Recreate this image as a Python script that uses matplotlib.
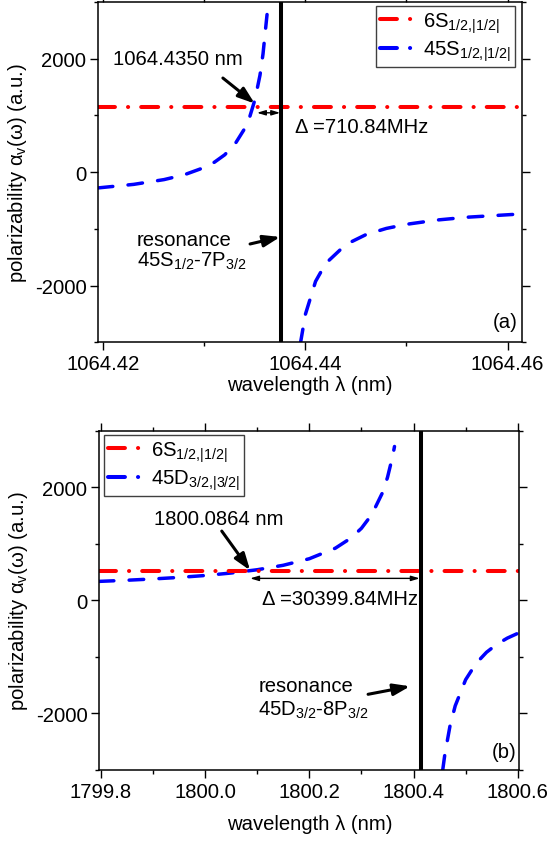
import numpy as np
import matplotlib
matplotlib.use("Agg")
import matplotlib.pyplot as plt
from matplotlib.lines import Line2D
from matplotlib.ticker import MultipleLocator

plt.rcParams['font.family'] = ['Liberation Sans', 'DejaVu Sans']
plt.rcParams['mathtext.fontset'] = 'custom'
plt.rcParams['mathtext.rm'] = 'Liberation Sans'
plt.rcParams['mathtext.it'] = 'Liberation Sans'
plt.rcParams['mathtext.default'] = 'regular'
plt.rcParams['lines.scale_dashes'] = False
plt.rcParams['axes.unicode_minus'] = False

FS = 14.6

# ---- panel (a) data ----
lam_a_left = [1064.4195, 1064.4230, 1064.4260, 1064.4280, 1064.4300, 1064.4310, 1064.4320,
              1064.4330, 1064.4340, 1064.4345, 1064.4350, 1064.4355, 1064.4358, 1064.4361, 1064.4362]
pol_a_left = [-277, -215, -131, -46, 83, 177, 305, 488, 773, 984, 1277, 1709, 2084, 2608, 2780]
lam_a_right = [1064.4395, 1064.4400, 1064.4410, 1064.4420, 1064.4440, 1064.4460, 1064.4480,
               1064.4500, 1064.4530, 1064.4560, 1064.4614]
pol_a_right = [-3022, -2504, -1926, -1610, -1275, -1100, -992, -919, -844, -794, -736]
ground_a = 1158          # 6S polarizability
resonance_a = 1064.4376  # 45S1/2-7P3/2
magic_a = 1064.4350

# ---- panel (b) data ----
lam_b_left = [1799.797, 1799.85, 1799.90, 1799.95, 1800.00, 1800.05, 1800.10, 1800.15, 1800.20,
              1800.25, 1800.28, 1800.30, 1800.32, 1800.34, 1800.35, 1800.36, 1800.3635]
pol_b_left = [336, 356, 379, 406, 440, 484, 542, 621, 737, 924, 1104, 1276, 1521, 1899, 2176, 2556, 2725]
lam_b_right = [1800.456, 1800.46, 1800.47, 1800.48, 1800.50, 1800.52, 1800.54, 1800.56, 1800.58, 1800.603]
pol_b_right = [-3006, -2734, -2223, -1868, -1405, -1117, -920, -777, -669, -572]
ground_b = 519
resonance_b = 1800.414
magic_b = 1800.0864

red_dash = (0, (12.2, 9.4, 0.1, 9.4))
blue_dash = (0, (10.5, 11.0))


def style_axes(ax, xmajor, xminor):
    ax.xaxis.set_major_locator(MultipleLocator(xmajor))
    ax.xaxis.set_minor_locator(MultipleLocator(xminor))
    ax.yaxis.set_major_locator(MultipleLocator(2000))
    ax.yaxis.set_minor_locator(MultipleLocator(1000))
    ax.tick_params(which='both', direction='out', top=True, right=True, labelsize=FS, width=1.0)
    ax.tick_params(which='major', length=5.5, pad=3)
    ax.tick_params(which='minor', length=3)
    for s in ax.spines.values():
        s.set_linewidth(1.1)
    ax.set_ylim(-3000, 3000)
    ax.set_ylabel(r'polarizability α$_{v}$(ω) (a.u.)', fontsize=FS, labelpad=4)


def draw_panel(ax, ll, pl, lr, pr, ground, res, lab_red, lab_blue):
    ax.plot(ll, pl, color='blue', lw=2.5, linestyle=blue_dash, dash_capstyle='round')
    ax.plot(lr, pr, color='blue', lw=2.5, linestyle=blue_dash, dash_capstyle='round')
    ax.axhline(ground, color='red', lw=2.9, linestyle=red_dash, dash_capstyle='round')
    ax.axvline(res, color='black', lw=2.9)
    handles = [Line2D([], [], color='red', lw=2.9, linestyle=red_dash, dash_capstyle='round'),
               Line2D([], [], color='blue', lw=2.9, linestyle=red_dash, dash_capstyle='round')]
    return handles, [lab_red, lab_blue]


fig = plt.figure(figsize=(5.51, 8.45), dpi=100)
ax1 = fig.add_axes([0.1784, 0.5937, 0.7684, 0.4027])
ax2 = fig.add_axes([0.1802, 0.0879, 0.7623, 0.4009])

arrow_kw = dict(arrowstyle='-|>,head_length=1.0,head_width=0.35', color='black', lw=2.2, shrinkA=0, shrinkB=0)
dbl_kw = dict(arrowstyle='<|-|>,head_length=0.5,head_width=0.15', color='black', lw=1.0, shrinkA=0, shrinkB=0)

leg_kw = dict(loc='upper left', borderaxespad=0, fontsize=FS, fancybox=False, edgecolor='0.25',
              framealpha=1, handlelength=1.65, handletextpad=0.45, labelspacing=0.2, borderpad=0.2)

# panel (a)
h, l = draw_panel(ax1, lam_a_left, pol_a_left, lam_a_right, pol_a_right, ground_a, resonance_a,
                  r'6S$_{1/2,\!|1/2|}$', r'45S$_{1/2,\!|1/2|}$')
ax1.set_xlim(1064.4195, 1064.4614)
style_axes(ax1, 0.02, 0.01)
ax1.xaxis.set_major_formatter(plt.FormatStrFormatter('%.2f'))
ax1.set_xlabel('wavelength λ (nm)', fontsize=FS, labelpad=1)
ax1.legend(h, l, bbox_to_anchor=(0.656, 0.988), **leg_kw)
ax1.text(1064.42096, 2000, '1064.4350 nm', fontsize=FS, ha='left', va='center')
ax1.annotate('', xy=(magic_a - 0.00002, 1210), xytext=(1064.43183, 1660), arrowprops=arrow_kw)
ax1.annotate('', xy=(resonance_a - 0.0001, 1047), xytext=(1064.4352, 1047), arrowprops=dbl_kw)
ax1.text(1064.43894, 800, 'Δ =710.84MHz', fontsize=FS, ha='left', va='center')
ax1.text(1064.42333, -1195, 'resonance', fontsize=FS, ha='left', va='center')
ax1.text(1064.42333, -1560, '45S$_{1/2}$-7P$_{3/2}$', fontsize=FS, ha='left', va='center')
ax1.annotate('', xy=(resonance_a - 0.0001, -1142), xytext=(1064.43452, -1266), arrowprops=arrow_kw)
ax1.text(1064.46098, -2625, '(a)', fontsize=FS, ha='right', va='center')

# panel (b)
h, l = draw_panel(ax2, lam_b_left, pol_b_left, lam_b_right, pol_b_right, ground_b, resonance_b,
                  r'6S$_{1/2,\!|1/2|}$', r'45D$_{3/2,\!|3/2|}$')
ax2.set_xlim(1799.797, 1800.603)
style_axes(ax2, 0.2, 0.1)
ax2.xaxis.set_major_formatter(plt.FormatStrFormatter('%.1f'))
ax2.set_xlabel('wavelength λ (nm)', fontsize=FS, labelpad=10)
ax2.legend(h, l, bbox_to_anchor=(0.011, 0.988), **leg_kw)
ax2.text(1799.9023, 1451, '1800.0864 nm', fontsize=FS, ha='left', va='center')
ax2.annotate('', xy=(magic_b, 531), xytext=(1800.0320, 1227), arrowprops=arrow_kw)
ax2.annotate('', xy=(resonance_b - 0.002, 389), xytext=(magic_b, 389), arrowprops=dbl_kw)
ax2.text(1800.1094, 35, 'Δ =30399.84MHz', fontsize=FS, ha='left', va='center')
ax2.text(1800.1018, -1504, 'resonance', fontsize=FS, ha='left', va='center')
ax2.text(1800.1018, -1929, '45D$_{3/2}$-8P$_{3/2}$', fontsize=FS, ha='left', va='center')
ax2.annotate('', xy=(1800.3934, -1522), xytext=(1800.3128, -1664), arrowprops=arrow_kw)
ax2.text(1800.5973, -2673, '(b)', fontsize=FS, ha='right', va='center')

fig.savefig('out.png', dpi=100)
